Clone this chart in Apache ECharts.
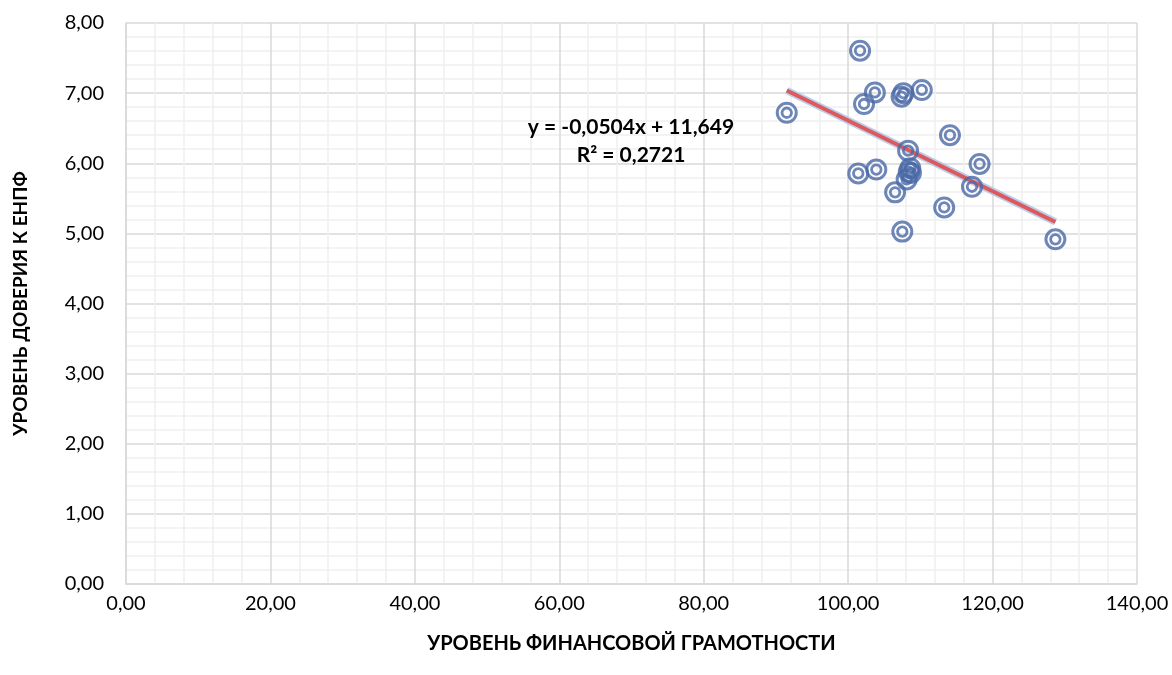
<!DOCTYPE html>
<html><head><meta charset="utf-8">
<script src="https://cdn.jsdelivr.net/npm/echarts@6/dist/echarts.min.js"></script>
<style>html,body{margin:0;padding:0;background:#fff}#c{width:1172px;height:675px}</style>
</head><body><div id="c"></div>
<script>
// Data
const literacy = [101.65, 103.7, 102.2, 91.5, 107.65, 107.4, 110.2, 114.1, 108.3, 101.4, 103.9, 108.6, 108.4, 108.7, 108.1, 106.5, 118.2, 117.15, 113.3, 107.5, 128.7];
const trust    = [7.605, 7.01, 6.845, 6.72, 7.0, 6.95, 7.045, 6.40, 6.18, 5.855, 5.91, 5.93, 5.88, 5.86, 5.77, 5.585, 5.99, 5.665, 5.37, 5.025, 4.915];
const trendSlope = -0.0504;
const trendIntercept = 11.649;
const rSquared = 0.2721;
const xTitle = 'УРОВЕНЬ ФИНАНСОВОЙ ГРАМОТНОСТИ';
const yTitle = 'УРОВЕНЬ ДОВЕРИЯ К ЕНПФ';

const pts = literacy.map((x, i) => [x, trust[i]]);
const xMin = Math.min(...literacy), xMax = Math.max(...literacy);
const trend = [[xMin, trendSlope * xMin + trendIntercept], [xMax, trendSlope * xMax + trendIntercept]];
const fmt = v => v.toFixed(2).replace('.', ',');
const fmtN = (v, d) => v.toFixed(d).replace('.', ',');
const FONT = 'Lato, "Open Sans", sans-serif';
const blue = '#4a69a6';

const chart = echarts.init(document.getElementById('c'), null, {renderer: 'canvas'});
chart.setOption({
  animation: false,
  grid: {left: 126, right: 35, top: 23, bottom: 91, containLabel: false, outerBoundsMode: 'none'},
  xAxis: {
    type: 'value', min: 0, max: 140, interval: 20,
    name: xTitle, nameLocation: 'middle', nameGap: 50,
    nameTextStyle: {fontFamily: FONT, fontWeight: 'bold', fontSize: 20, color: '#000'},
    axisLine: {show: true, lineStyle: {color: '#d9d9d9', width: 1.5}},
    axisTick: {show: false},
    axisLabel: {formatter: fmt, fontFamily: FONT, fontSize: 20, color: '#000', margin: 10},
    splitLine: {show: true, lineStyle: {color: '#d9d9d9', width: 1.5}},
    minorTick: {show: false, splitNumber: 5},
    minorSplitLine: {show: true, lineStyle: {color: '#f0f0f0', width: 1.5}}
  },
  yAxis: {
    type: 'value', min: 0, max: 8, interval: 1,
    name: yTitle, nameLocation: 'middle', nameGap: 96, nameRotate: 90,
    nameTextStyle: {fontFamily: FONT, fontWeight: 'bold', fontSize: 19, color: '#000'},
    axisLine: {show: true, lineStyle: {color: '#d9d9d9', width: 1.5}},
    axisTick: {show: false},
    axisLabel: {formatter: fmt, fontFamily: FONT, fontSize: 20, color: '#000', margin: 22},
    splitLine: {show: true, lineStyle: {color: '#d9d9d9', width: 1.5}},
    minorTick: {show: false, splitNumber: 5},
    minorSplitLine: {show: true, lineStyle: {color: '#f0f0f0', width: 1.5}}
  },
  series: [
    {type: 'line', data: trend, symbol: 'none', silent: true, z: 2,
     lineStyle: {color: 'rgba(180,200,230,0.9)', width: 7.5}},
    {type: 'line', data: trend, symbol: 'none', silent: true, z: 3,
     lineStyle: {color: '#dc5a5e', width: 4}},
    {type: 'scatter', data: pts, symbol: 'circle', symbolSize: 19, z: 4,
     itemStyle: {color: 'rgba(0,0,0,0)', borderColor: blue, borderWidth: 3}},
    {type: 'scatter', data: pts, symbol: 'circle', symbolSize: 9.5, z: 4,
     itemStyle: {color: 'rgba(0,0,0,0)', borderColor: blue, borderWidth: 2.8}}
  ],
  graphic: [
    {type: 'text', z: 10, x: 631, y: 127,
     style: {text: 'y = ' + fmtN(trendSlope, 4) + 'x + ' + fmtN(trendIntercept, 3),
             align: 'center', verticalAlign: 'middle',
             fontFamily: FONT, fontWeight: 'bold', fontSize: 21, fill: '#000'}},
    {type: 'text', z: 10, x: 631, y: 155,
     style: {text: 'R² = ' + fmtN(rSquared, 4),
             align: 'center', verticalAlign: 'middle',
             fontFamily: FONT, fontWeight: 'bold', fontSize: 21, fill: '#000'}}
  ]
});
</script></body></html>
